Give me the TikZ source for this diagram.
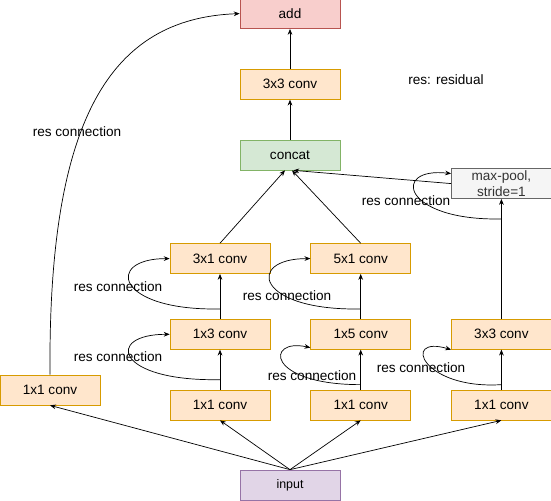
\documentclass[tikz,border=0pt]{standalone}
\usepackage{fontspec}
\setmainfont{Liberation Sans}
\usetikzlibrary{arrows.meta, positioning}

\definecolor{convfill}{HTML}{FFE6CC}
\definecolor{convline}{HTML}{D79B00}
\definecolor{addfill}{HTML}{F8CECC}
\definecolor{addline}{HTML}{B85450}
\definecolor{catfill}{HTML}{D5E8D4}
\definecolor{catline}{HTML}{82B366}
\definecolor{inpfill}{HTML}{E1D5E7}
\definecolor{inpline}{HTML}{9673A6}
\definecolor{poolfill}{HTML}{F5F5F5}
\definecolor{poolline}{HTML}{666666}
\definecolor{pooltext}{HTML}{333333}

\begin{document}
\begin{tikzpicture}[
          x=0.03cm, y=-0.03cm,
          font=\fontsize{11.6pt}{13.5pt}\selectfont,
          block/.style={draw, minimum width=3cm, minimum height=0.9cm, inner sep=2pt, line width=0.6pt},
          % Box colors
          conv/.style={block, fill=convfill, draw=convline},
          addbox/.style={block, fill=addfill, draw=addline},
          catbox/.style={block, fill=catfill, draw=catline},
          inpbox/.style={block, fill=inpfill, draw=inpline, font=\fontsize{10.6pt}{12pt}\selectfont},
          poolbox/.style={block, fill=poolfill, draw=poolline, text=pooltext, align=center, inner sep=1pt},
          lbl/.style={inner sep=0pt},
          arrow/.style={-{Stealth[length=5pt, width=4pt]}, line width=0.6pt}
        ]
        \useasboundingbox (0,0) rectangle (551,501);

        % -------- Input and first 1x1 convs --------
        \node[inpbox] (input) at (290,485) {input};
        \node[conv] (c1l) at (50,390) {1x1 conv};
        \node[conv] (c1a) at (220,405) {1x1 conv};
        \node[conv, right=1.2cm of c1a] (c2a) {1x1 conv};
        \node[conv, right=1.2cm of c2a] (c3a) {1x1 conv};

        % -------- Branches --------
        \node[conv, above=1.2cm of c1a] (c1b) {1x3 conv};
        \node[conv, above=1.35cm of c1b] (c1c) {3x1 conv};
        \node[conv, above=1.2cm of c2a] (c2b) {1x5 conv};
        \node[conv, above=1.35cm of c2b] (c2c) {5x1 conv};
        \node[conv, above=1.2cm of c3a] (c3b) {3x3 conv};
        \node[poolbox, above=3.6cm of c3b] (pool) {max-pool,\\stride=1};

        % -------- Top --------
        \node[catbox] (concat) at (290,155) {concat};
        \node[conv, above=1.2cm of concat] (c33) {3x3 conv};
        \node[addbox, above=1.2cm of c33] (add) {add};

        \node[lbl] (note) at (446,80) {res: residual};

        % -------- Arrows --------
        \draw[arrow] (input.north) -- (c1l.south);
        \draw[arrow] (input.north) -- (c1a.south);
        \draw[arrow] (input.north) -- (c2a.south);
        \draw[arrow] (input.north) -- (c3a.south);

        \draw[arrow] (c1a) -- (c1b);
        \draw[arrow] (c1b) -- (c1c);
        \draw[arrow] (c2a) -- (c2b);
        \draw[arrow] (c2b) -- (c2c);
        \draw[arrow] (c3a) -- (c3b);
        \draw[arrow] (c3b) -- (pool);

        \draw[arrow] (c1c.north) -- ([xshift=-0.15cm]concat.south);
        \draw[arrow] (c2c.north) -- ([xshift=0.06cm]concat.south);
        \draw[arrow] (pool.west) -- ([xshift=0.1cm]concat.south);
        \draw[arrow] (concat) -- (c33);
        \draw[arrow] (c33) -- (add);

        % -------- Res connections --------
        \coordinate (r1a) at ([yshift=0.3cm]c1a.north);
        \coordinate (r1b) at ([yshift=0.3cm]c1b.north);
        \coordinate (r2a) at ([yshift=0.15cm]c2a.north);
        \coordinate (r2b) at ([yshift=0.3cm]c2b.north);
        \coordinate (r3a) at ([yshift=0.15cm]c3a.north);
        \coordinate (r3b) at ([yshift=3cm]c3b.north);

        \draw[arrow] (c1l.north) .. controls +(-2,-255) and +(-130,5) .. (add.west);
        \draw[arrow] (r1a) .. controls +(-105,2) and +(-65,0) .. (c1b.west);
        \draw[arrow] (r1b) .. controls +(-105,2) and +(-65,0) .. (c1c.west);
        \draw[arrow] (r2a) .. controls +(-95,0) and +(-45,-10) .. ([yshift=0.06cm]c2b.south west);
        \draw[arrow] (r2b) .. controls +(-105,2) and +(-65,0) .. (c2c.west);
        \draw[arrow] (r3a) .. controls +(-80,5) and +(-50,-15) .. (c3b.south west);
        \draw[arrow] (r3b) .. controls +(-100,2) and +(-60,-7) .. ([yshift=0.3cm]pool.west);

        % -------- Labels --------
        \node[lbl] (l0) at (77,132) {res connection};
        \node[lbl] (l1) at (118,357) {res connection};
        \node[lbl] (l2) at (118,287) {res connection};
        \node[lbl] (l3) at (312,376) {res connection};
        \node[lbl] (l4) at (287,296) {res connection};
        \node[lbl] (l5) at (421,368) {res connection};
        \node[lbl] (l6) at (406,201) {res connection};

      \end{tikzpicture}
\end{document}
